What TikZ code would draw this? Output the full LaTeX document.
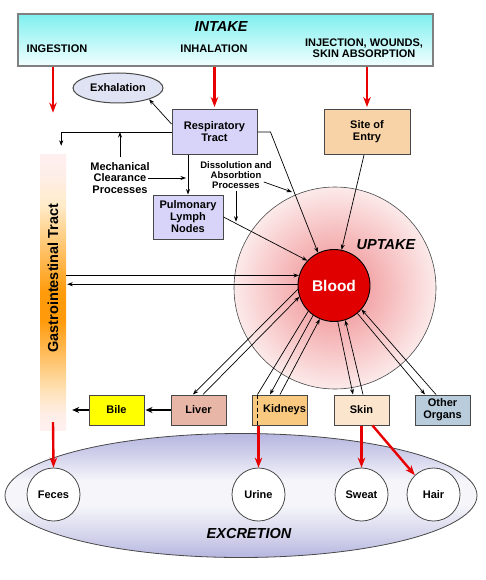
\documentclass[tikz,border=0pt]{standalone}
\usepackage{fontspec}
\setmainfont{Liberation Sans}
\usetikzlibrary{arrows.meta,calc,shapes.geometric}

\definecolor{intakeTop}{HTML}{7FEFEF}
\definecolor{intakeBot}{HTML}{F2FFFF}
\definecolor{exhFill}{HTML}{E0E3F3}
\definecolor{respFill}{HTML}{D8D3F8}
\definecolor{siteFill}{HTML}{F9D3A8}
\definecolor{liverFill}{HTML}{E8B6A6}
\definecolor{kidFill}{HTML}{F9C97F}
\definecolor{skinFill}{HTML}{FCE5CD}
\definecolor{otherFill}{HTML}{B8CCDC}
\definecolor{bileFill}{HTML}{FFFF00}
\definecolor{bloodRed}{HTML}{E00000}
\definecolor{arrRed}{HTML}{E80000}
\definecolor{lineGray}{HTML}{484848}
\definecolor{upInner}{HTML}{F3AAAC}
\definecolor{upMid}{HTML}{F7C2C3}
\definecolor{upOuter}{HTML}{FCEAEA}
\definecolor{giPink}{HTML}{FFF0F0}
\definecolor{giPinkB}{HTML}{FEEEE8}
\definecolor{giLight}{HTML}{FEE2B6}
\definecolor{giLightB}{HTML}{FFECCA}
\definecolor{giOrange}{HTML}{FF9A0A}
\definecolor{exA}{HTML}{B6B6E0}
\definecolor{exB}{HTML}{D2D2EC}
\definecolor{exC}{HTML}{F5F5FA}
\definecolor{exD}{HTML}{D4D4EC}

\pgfdeclareverticalshading{gishade}{100bp}{color(0bp)=(giPink); color(25bp)=(giPink); color(27.7bp)=(giPinkB); color(32.3bp)=(giLight); color(45bp)=(giOrange); color(50bp)=(giOrange); color(66bp)=(giLightB); color(71.4bp)=(giPinkB); color(75bp)=(giPink); color(100bp)=(giPink)}
\pgfdeclareverticalshading{excshade}{100bp}{color(0bp)=(exA); color(25bp)=(exA); color(34bp)=(exD); color(46bp)=(exC); color(56bp)=(exC); color(66bp)=(exB); color(75bp)=(exA); color(100bp)=(exA)}
\pgfdeclareradialshading{uptakeshade}{\pgfpoint{0bp}{0bp}}{color(0bp)=(upInner); color(9bp)=(upInner); color(15bp)=(upMid); color(25bp)=(upOuter); color(50bp)=(upOuter)}

\begin{document}
\begin{tikzpicture}[x=1pt,y=-1pt,
  lbl/.style={font=\bfseries\fontsize{11}{11}\selectfont, align=center, inner sep=1pt},
  ttl/.style={font=\bfseries\itshape\fontsize{14.5}{17}\selectfont, inner sep=1pt},
  box/.style={draw=lineGray, line width=1pt, minimum width=55pt, minimum height=30pt, inner sep=0pt, align=center, font=\bfseries\fontsize{11}{12}\selectfont},
  outc/.style={circle, draw=lineGray, line width=0.8pt, fill=white, minimum size=53pt, inner sep=0pt, font=\bfseries\fontsize{11}{12}\selectfont},
  arr/.style={-{Stealth[length=5.5pt,width=4pt]}, line width=0.7pt},
  redarr/.style={-{Stealth[length=10pt,width=7.5pt]}, line width=2.4pt, draw=arrRed},
  thickarr/.style={-{Stealth[length=7pt,width=6pt]}, line width=1.8pt}]
\useasboundingbox (0,0) rectangle (485,580);
\fill[white] (0,0) rectangle (485,580);

% intake
\node[rectangle, draw=gray, line width=1.3pt, minimum width=415pt, minimum height=52pt, top color=intakeTop, bottom color=intakeBot, inner sep=0] (intake) at (225.5,40) {};
\node[ttl] (intakelbl) at (221,27) {INTAKE};
\node[lbl] (ingest) at (57,49) {INGESTION};
\node[lbl] (inhal) at (214,49) {INHALATION};
\node[lbl] (inject) at (364,48.5) {INJECTION, WOUNDS,\\SKIN ABSORPTION};

% uptake and blood
\node[circle, draw=lineGray, line width=0.6pt, minimum size=202pt, inner sep=0, shade, shading=uptakeshade] (uptake) at (335,288) {};
\node[ttl] (uptakelbl) at (386,245) {UPTAKE};
\node[circle, draw=black, line width=0.9pt, fill=bloodRed, minimum size=72pt, inner sep=0, text=white, font=\bfseries\fontsize{15.5}{18}\selectfont] (blood) at (334,285.5) {Blood};

% excretion
\node[ellipse, draw=lineGray, line width=0.8pt, minimum width=472pt, minimum height=124pt, inner sep=0, shade, shading=excshade] (excr) at (241,495.5) {};
\node[ttl] (excrlbl) at (249,534) {EXCRETION};
\node[outc] (feces) at (53.5,494.5) {Feces};
\node[outc] (urine) at (258.5,494.5) {Urine};
\node[outc] (sweat) at (361.5,494.5) {Sweat};
\node[outc] (hair) at (433.5,494.5) {Hair};

% GI tract
\node[rectangle, minimum width=26pt, minimum height=275pt, inner sep=0, shade, shading=gishade] (gi) at (53,292.5) {};
\node[rotate=90, font=\bfseries\fontsize{14.5}{17}\selectfont, inner sep=0] (gilbl) at (53,278) {Gastrointestinal Tract};

% upper boxes
\node[ellipse, draw=lineGray, line width=1pt, fill=exhFill, minimum width=90pt, minimum height=30pt, inner sep=0, font=\bfseries\fontsize{11}{12}\selectfont] (exh) at (118,88) {Exhalation};
\node[box, fill=respFill, minimum width=85pt, minimum height=45pt] (resp) at (214.5,132) {Respiratory\\Tract};
\node[box, fill=siteFill, minimum width=86pt, minimum height=45pt] (site) at (367,132) {Site of\\Entry};
\node[box, fill=respFill, minimum width=70pt, minimum height=44pt] (pulm) at (188,217) {Pulmonary\\Lymph\\Nodes};
\node[lbl, font=\bfseries\fontsize{11}{11.5}\selectfont, inner sep=2pt] (mech) at (120,178) {Mechanical\\Clearance\\Processes};
\node[lbl, font=\bfseries\fontsize{9.5}{10}\selectfont, inner sep=2pt] (diss) at (236,175) {Dissolution and\\Absorbtion\\Processes};

% lower boxes
\node[box, fill=bileFill] (bile) at (116.5,410) {Bile};
\node[box, fill=liverFill] (liver) at (198.5,410) {Liver};
\node[box, fill=kidFill] (kid) at (279.5,410) {\hspace*{10pt}Kidneys};
\node[box, fill=skinFill] (skin) at (361.5,410) {Skin};
\node[box, fill=otherFill] (other) at (442.5,410) {Other\\Organs};

% red arrows
\draw[redarr] (intake.south -| gi.north) -- ++(0,46);
\draw[redarr, shorten >=2pt] (intake.south -| resp.north) -- (resp.north);
\draw[redarr, shorten >=2pt] (intake.south -| site.north) -- (site.north);
\draw[redarr] ($(gi.south)+(0,-8)$) -- (feces.north);
\draw[redarr] (kid.south -| urine.north) -- (urine.north);
\draw[redarr] (skin.south) -- (sweat.north);
\draw[redarr] ($(skin.south)+(11,0)$) -- (hair.134);

% respiratory connections
\coordinate (gitip) at ($(gi.north east)+(-5,-9)$);
\draw[arr] ($(resp.north west)+(0,15)$) -- (exh.-20);
\draw[arr] (resp.west) -- (gitip |- resp.west) -- (gitip);
\draw[arr] ($(mech.north)+(0,-3)$) -- (mech.north |- resp.west);
\draw[arr] ($(mech.east)+(-4,0)$) -- ($(pulm.north |- mech.east)+(-2,0)$);
\draw[arr] (resp.south -| pulm.north) -- (pulm.north);
\draw[arr] (resp.east) -- ++(13,0) -- (blood.116);
\draw[arr] ($(diss.east)+(-10,7)$) -- (292,192);
\draw[arr] (diss.south) -- ++(0,31);
\draw[arr] (pulm.east) -- (blood.137);
\draw[arr] ($(site.south)+(-3,0)$) -- (blood.78);

% GI <-> blood
\draw[arr] (gi.east |- blood.164) -- (blood.164);
\draw[arr] (blood.178) -- ($(gi.east |- blood.178)+(1,0)$);

% blood <-> organs
\draw[arr] (blood.186) -- ($(liver.north)+(-5.5,0)$);
\draw[arr] ($(liver.north)+(4.5,0)$) -- (blood.198);
\draw[line width=0.7pt] (blood.225) -- ($(kid.north west)+(6,0)$);
\draw[line width=0.8pt, dash pattern=on 4pt off 2.5pt] ($(kid.north west)+(6,0)$) -- ($(kid.south west)+(6,0)$);
\draw[arr] (blood.235) -- ($(kid.north)+(-9.5,0)$);
\draw[arr] ($(kid.north)+(0.5,0)$) -- (blood.247);
\draw[arr] (blood.276) -- ($(skin.north)+(-8.5,0)$);
\draw[arr] ($(skin.north)+(1.5,0)$) -- (blood.288);
\draw[arr] (blood.310) -- ($(other.north)+(-17.5,0)$);
\draw[arr] ($(other.north)+(-6.5,0)$) -- (blood.319);

% bile
\draw[thickarr] (liver.west) -- ($(bile.east)+(1,0)$);
\draw[thickarr] (bile.west) -- ($(gi.east |- bile.west)+(6,0)$);
\end{tikzpicture}
\end{document}
